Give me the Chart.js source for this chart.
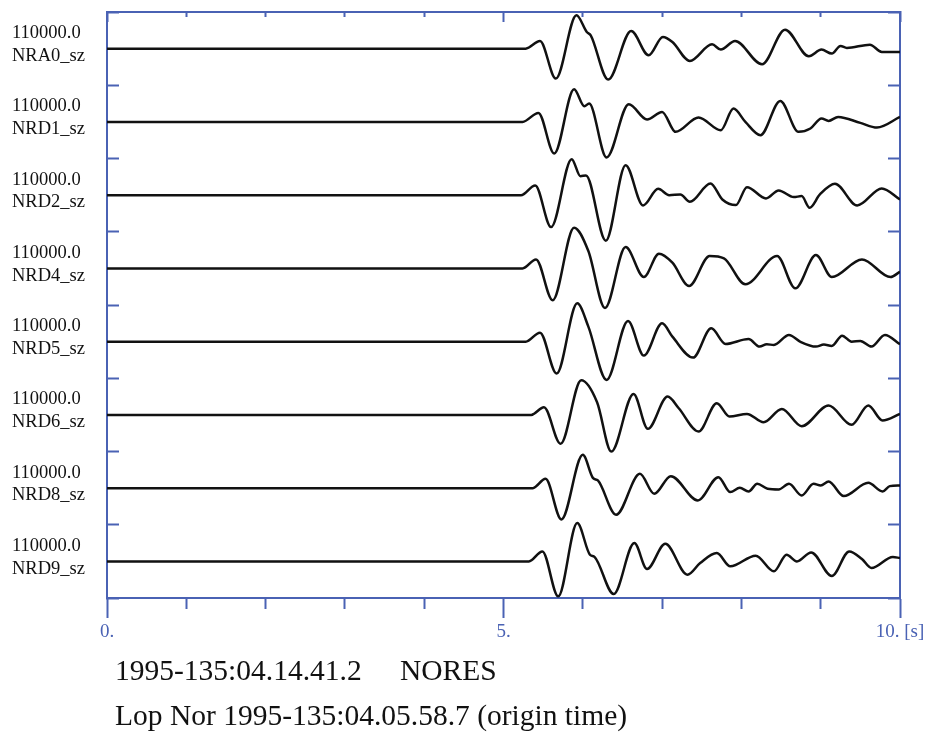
<!DOCTYPE html>
<html>
<head>
<meta charset="utf-8">
<title>NORES array – Lop Nor</title>
<script src="https://cdn.jsdelivr.net/npm/chart.js@4/dist/chart.umd.min.js"></script>
<style>
  body { margin: 0; background: #fff; }
  #wrap { position: relative; width: 925px; height: 735px; }
  canvas { display: block; }
  .caption {
    position: absolute;
    left: 115px;
    font: 29.5px 'Liberation Serif', 'Times New Roman', serif;
    line-height: 45px;
    color: #111;
    white-space: nowrap;
  }
</style>
</head>
<body>
<div id="wrap">
  <canvas id="traces" width="925" height="650"></canvas>
  <div class="caption" style="top:648px">1995-135:04.14.41.2<span style="position:absolute;left:285px">NORES</span></div>
  <div class="caption" style="top:693px">Lop Nor 1995-135:04.05.58.7 (origin time)</div>
</div>
<script>
// channel names, top to bottom, and the amplitude scale printed above each
const stations = ['NRA0_sz', 'NRD1_sz', 'NRD2_sz', 'NRD4_sz', 'NRD5_sz', 'NRD6_sz', 'NRD8_sz', 'NRD9_sz'];
const gains = ['110000.0', '110000.0', '110000.0', '110000.0', '110000.0', '110000.0', '110000.0', '110000.0'];

// time axis labels (s)
const timeLabels = { 0: '0.', 5: '5.', 10: '10. [s]' };

// picked extrema of each trace: [time s, counts]
const nra0 = [
  [0, 0], [5.28, 0], [5.46, 23000], [5.66, -90000], [5.92, 100000], [6.05, 50000], [6.10, 40000],
  [6.32, -93000], [6.61, 53000], [6.83, -20000], [7.01, 35000], [7.13, 20000], [7.35, -37000],
  [7.63, 13000], [7.74, -3000], [7.92, 23000], [8.26, -47000], [8.55, 57000], [8.85, -23000],
  [9.01, -3000], [9.14, -15000], [9.25, 8000], [9.33, 2000], [9.62, 12000], [9.77, -10000], [10, -10000]
];
const nrd1 = [
  [0, 0], [5.24, 0], [5.44, 27000], [5.64, -95000], [5.89, 98000], [6.02, 47000], [6.08, 55000],
  [6.30, -107000], [6.58, 53000], [6.81, 7000], [7.00, 30000], [7.17, -30000], [7.46, 13000],
  [7.74, -25000], [7.90, 40000], [8.05, 0], [8.24, -40000], [8.49, 63000], [8.72, -30000],
  [8.87, -20000], [9.01, 10000], [9.10, 3000], [9.22, 15000], [9.50, -3000], [9.71, -17000], [10, 15000]
];
const nrd2 = [
  [0, 0], [5.22, 0], [5.40, 29000], [5.60, -96000], [5.86, 108000], [5.97, 57000], [6.04, 59000],
  [6.29, -137000], [6.54, 90000], [6.76, -31000], [6.95, 19000], [7.09, 0], [7.23, 2000],
  [7.35, -20000], [7.61, 35000], [7.76, -13000], [7.93, -30000], [8.07, 24000], [8.31, -10000],
  [8.47, 14000], [8.66, -6000], [8.76, -3000], [8.86, -38000], [8.99, 2000], [9.18, 34000],
  [9.46, -31000], [9.77, 20000], [10, -13000]
];
const nrd4 = [
  [0, 0], [5.24, 0], [5.41, 27000], [5.62, -96000], [5.89, 122000], [6.07, 52000], [6.28, -119000],
  [6.54, 64000], [6.77, -26000], [6.96, 44000], [7.13, 17000], [7.34, -53000], [7.60, 37000],
  [7.78, 30000], [8.05, -48000], [8.45, 37000], [8.68, -60000], [8.94, 40000], [9.14, -26000],
  [9.52, 27000], [9.88, -26000], [10, -10000]
];
const nrd5 = [
  [0, 0], [5.28, 0], [5.46, 27000], [5.67, -96000], [5.93, 115000], [6.07, 45000], [6.30, -115000],
  [6.57, 62000], [6.77, -42000], [7.00, 55000], [7.13, 15000], [7.39, -48000], [7.62, 40000],
  [7.80, -7000], [8.09, 8000], [8.23, -15000], [8.32, -8000], [8.41, -10000], [8.60, 20000],
  [8.74, 0], [8.94, -15000], [9.04, -9000], [9.14, -13000], [9.27, 18000], [9.39, 0], [9.50, 2000],
  [9.64, -15000], [9.81, 20000], [10, -8000]
];
const nrd6 = [
  [0, 0], [5.35, 0], [5.51, 23000], [5.72, -87000], [5.98, 104000], [6.18, 38000], [6.36, -110000],
  [6.64, 63000], [6.82, -42000], [7.07, 55000], [7.21, 20000], [7.46, -50000], [7.69, 35000],
  [7.85, -5000], [8.07, 3000], [8.28, -22000], [8.51, 18000], [8.76, -34000], [9.10, 28000],
  [9.39, -30000], [9.60, 28000], [9.78, -17000], [10, 3000]
];
const nrd8 = [
  [0, 0], [5.37, 0], [5.53, 28000], [5.73, -94000], [6.00, 100000], [6.13, 30000], [6.19, 23000],
  [6.42, -80000], [6.72, 43000], [6.90, -17000], [7.11, 36000], [7.45, -37000], [7.71, 33000],
  [7.86, -12000], [7.98, 1000], [8.09, -10000], [8.20, 13000], [8.33, -2000], [8.47, -4000],
  [8.60, 13000], [8.76, -22000], [8.91, 13000], [9.00, 8000], [9.10, 20000], [9.29, -24000],
  [9.60, 16000], [9.78, -10000], [9.87, 6000], [10, 8000]
];
const nrd9 = [
  [0, 0], [5.32, 0], [5.49, 30000], [5.69, -105000], [5.93, 115000], [6.09, 20000], [6.15, 13000],
  [6.39, -98000], [6.65, 55000], [6.81, -23000], [7.04, 53000], [7.32, -40000], [7.48, -5000],
  [7.69, 25000], [7.86, -15000], [8.18, 17000], [8.41, -30000], [8.57, 20000], [8.70, 0],
  [8.88, 27000], [9.14, -44000], [9.36, 30000], [9.52, 7000], [9.64, -20000], [9.91, 13000], [10, 10000]
];

const traces = [nra0, nrd1, nrd2, nrd4, nrd5, nrd6, nrd8, nrd9];

const BLUE = '#4a62b4';
const BAND = 220000; // each channel gets +-110000 counts around its baseline
const SERIF = "'Liberation Serif', 'Times New Roman', serif";

// one tick in the middle of every channel band; grid.offset moves the marks to the band edges
function bandTicks(scale) {
  scale.ticks = stations.map((_, i) => ({ value: (i + 0.5) * BAND }));
}

function noPadding(scale) {
  scale.paddingTop = scale.paddingBottom = scale.paddingLeft = scale.paddingRight = 0;
}

const isMajor = (v) => v % 5 === 0;

const datasets = traces.map((trace, k) => ({
  label: stations[k],
  data: trace.map(([t, a]) => ({ x: t, y: (7.5 - k) * BAND + a })),
  xAxisID: 'x',
  yAxisID: 'y',
  borderColor: '#111',
  borderWidth: 2.5,
  pointRadius: 0,
  cubicInterpolationMode: 'monotone',
  fill: false
}));

const bandGrid = {
  offset: true,
  drawOnChartArea: false,
  tickLength: -12,
  tickWidth: 2,
  tickColor: BLUE
};

new Chart(document.getElementById('traces'), {
  type: 'line',
  data: { datasets },
  options: {
    responsive: false,
    animation: false,
    devicePixelRatio: 1,
    layout: { padding: { left: 12, right: 25, top: 12, bottom: 8 } },
    plugins: {
      legend: { display: false },
      tooltip: { enabled: false }
    },
    scales: {
      x: {
        type: 'linear',
        position: 'bottom',
        min: 0,
        max: 10,
        ticks: {
          stepSize: 1,
          autoSkip: false,
          maxRotation: 0,
          padding: 3,
          color: BLUE,
          font: { family: SERIF, size: 19 },
          callback: (v) => timeLabels[v] ?? ''
        },
        grid: {
          drawOnChartArea: false,
          tickLength: 20,
          tickWidth: 2,
          tickColor: BLUE,
          tickBorderDash: (ctx) => (isMajor(ctx.tick.value) ? [] : [10, 30])
        },
        border: { color: BLUE, width: 2 },
        afterFit: (s) => { s.height = 44; noPadding(s); }
      },
      xTop: {
        type: 'linear',
        position: 'top',
        min: 0,
        max: 10,
        ticks: { stepSize: 1, autoSkip: false, display: false },
        grid: {
          drawOnChartArea: false,
          tickLength: -10,
          tickWidth: 2,
          tickColor: BLUE,
          tickBorderDash: (ctx) => (isMajor(ctx.tick.value) ? [] : [5, 5]),
          tickBorderDashOffset: (ctx) => (isMajor(ctx.tick.value) ? 0 : 5)
        },
        border: { color: BLUE, width: 2 },
        afterFit: (s) => { s.height = 0; noPadding(s); }
      },
      y: {
        type: 'linear',
        position: 'left',
        min: 0,
        max: 8 * BAND,
        afterBuildTicks: bandTicks,
        ticks: {
          autoSkip: false,
          crossAlign: 'far',
          labelOffset: -4,
          color: '#111',
          font: { family: SERIF, size: 18.5, lineHeight: 1.24 },
          callback: (v, i) => [gains[7 - i], stations[7 - i]]
        },
        grid: bandGrid,
        border: { color: BLUE, width: 2 },
        afterFit: (s) => { s.width = 95; noPadding(s); }
      },
      yRight: {
        type: 'linear',
        position: 'right',
        min: 0,
        max: 8 * BAND,
        afterBuildTicks: bandTicks,
        ticks: { display: false },
        grid: bandGrid,
        border: { color: BLUE, width: 2 },
        afterFit: (s) => { s.width = 0; noPadding(s); }
      }
    }
  }
});
</script>
</body>
</html>
